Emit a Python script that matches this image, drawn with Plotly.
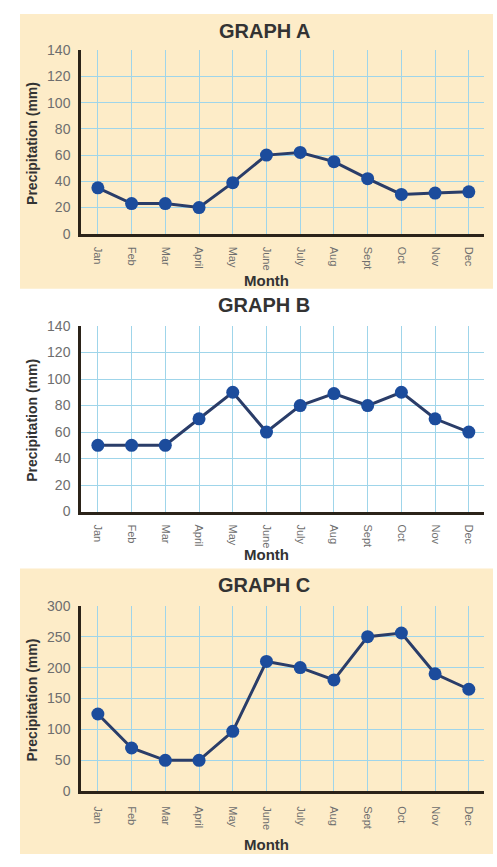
import plotly.graph_objects as go

W, H = 497, 867

months = ["Jan", "Feb", "Mar", "April", "May", "June", "July", "Aug", "Sept", "Oct", "Nov", "Dec"]
precip_a = [35, 23, 23, 20, 39, 60, 62, 55, 42, 30, 31, 32]
precip_b = [50, 50, 50, 70, 90, 60, 80, 89, 80, 90, 70, 60]
precip_c = [125, 70, 50, 50, 97, 210, 200, 180, 250, 256, 190, 165]

titles = ["GRAPH A", "GRAPH B", "GRAPH C"]
series = [precip_a, precip_b, precip_c]
y_max = [140, 140, 300]
y_step = [20, 20, 50]

BEIGE = "#fdecc8"
GRID = "#9fd5ea"
AXIS = "#2b2319"
MARKER = "#1c4c9c"
LINE = "#2a3d69"
FONT = "Liberation Sans, Arial"


def fx(p):
    return p / W


def fy(p):
    return 1 - p / H


# pixel layout for each panel: plot top, plot bottom, title y, "Month" y, panel bg
plots = [
    dict(top=43, bottom=230, title=23, month=278, standoff=8, bg=(6, 286)),
    dict(top=324, bottom=513, title=303, month=557, standoff=8, bg=None),
    dict(top=609, bottom=798, title=588, month=852, standoff=10, bg=(571, 862)),
]
x_left, x_right = 81, 484

fig = go.Figure()
shapes = []
annotations = []

for i, (vals, p) in enumerate(zip(series, plots)):
    n = "" if i == 0 else str(i + 1)
    fig.add_trace(go.Scatter(
        x=months, y=vals,
        mode="lines+markers",
        line=dict(color=LINE, width=3),
        marker=dict(color=MARKER, size=13),
        xaxis="x" + n, yaxis="y" + n,
        cliponaxis=False,
        showlegend=False,
    ))

    fig.update_layout(**{
        "xaxis" + n: dict(
            domain=[fx(x_left), fx(x_right)],
            anchor="y" + n,
            type="category",
            range=[-0.5, 11.45],
            showline=True, linecolor=AXIS, linewidth=2.5,
            showgrid=True, gridcolor=GRID, gridwidth=1,
            ticks="", tickangle=90, ticklabelstandoff=p["standoff"],
            tickfont=dict(size=11, color="#6e6e6e", family=FONT),
            fixedrange=True,
        ),
        "yaxis" + n: dict(
            domain=[fy(p["bottom"]), fy(p["top"])],
            anchor="x" + n,
            range=[0, y_max[i]],
            dtick=y_step[i],
            showline=True, linecolor=AXIS, linewidth=2.5,
            showgrid=True, gridcolor=GRID, gridwidth=1,
            zeroline=False,
            ticks="", ticklabelstandoff=5,
            tickfont=dict(size=14, color="#6e6e6e", family=FONT),
            fixedrange=True,
        ),
    })

    if p["bg"]:
        shapes.append(dict(
            type="rect", xref="paper", yref="paper", layer="below",
            x0=fx(20), x1=fx(493), y0=fy(p["bg"][1]), y1=fy(p["bg"][0]),
            fillcolor=BEIGE, line=dict(width=0),
        ))

    annotations.append(dict(
        text="<b>" + titles[i] + "</b>", xref="paper", yref="paper",
        x=fx(264), y=fy(p["title"]), showarrow=False,
        xanchor="center", yanchor="middle",
        font=dict(size=20, color="#333333", family=FONT),
    ))
    annotations.append(dict(
        text="<b>Month</b>", xref="paper", yref="paper",
        x=fx(266), y=fy(p["month"]), showarrow=False,
        xanchor="center", yanchor="middle",
        font=dict(size=15, color="#333333", family=FONT),
    ))
    annotations.append(dict(
        text="<b>Precipitation (mm)</b>", xref="paper", yref="paper",
        x=fx(32), y=fy((p["top"] + p["bottom"]) / 2 + 2), showarrow=False,
        textangle=-90, xanchor="center", yanchor="middle",
        font=dict(size=14, color="#333333", family=FONT),
    ))

fig.update_layout(
    width=W, height=H,
    margin=dict(l=0, r=0, t=0, b=0),
    paper_bgcolor="white",
    plot_bgcolor="rgba(0,0,0,0)",
    shapes=shapes,
    annotations=annotations,
)

fig.write_html(
    "out.html",
    config={"displayModeBar": False},
    post_script="document.body.style.margin='0';",
)
